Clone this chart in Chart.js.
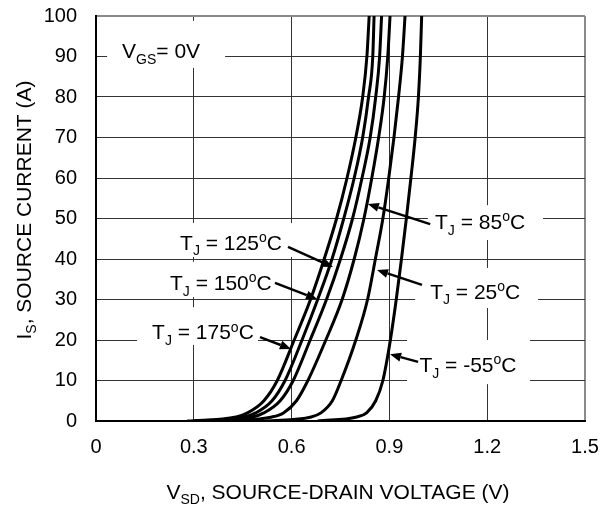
<!DOCTYPE html>
<html><head><meta charset="utf-8">
<script src="https://cdn.jsdelivr.net/npm/chart.js@4.4.0/dist/chart.umd.min.js"></script>
<style>html,body{margin:0;padding:0;background:#fff;}</style>
</head><body>
<canvas id="c" width="601" height="506"></canvas>
<script>
// ---- data ----
const currents = [0, 1, 2, 5, 10, 20, 30, 40, 50, 60, 70, 80, 90, 100];          // I_S (A)
const vTj175   = [0.28, 0.43, 0.465, 0.515, 0.556, 0.608, 0.658, 0.700, 0.738, 0.770, 0.797, 0.818, 0.831, 0.838];
const vTj150   = [0.30, 0.455, 0.49, 0.54, 0.580, 0.632, 0.680, 0.724, 0.760, 0.792, 0.818, 0.836, 0.849, 0.853];
const vTj125   = [0.33, 0.48, 0.515, 0.565, 0.605, 0.657, 0.707, 0.750, 0.787, 0.816, 0.841, 0.858, 0.870, 0.876];
const vTj85    = [0.40, 0.54, 0.575, 0.615, 0.650, 0.705, 0.755, 0.792, 0.822, 0.846, 0.867, 0.884, 0.895, 0.902];
const vTj25    = [0.52, 0.66, 0.69, 0.725, 0.752, 0.797, 0.833, 0.857, 0.880, 0.898, 0.914, 0.928, 0.940, 0.948];
const vTjm55   = [0.68, 0.80, 0.83, 0.858, 0.880, 0.903, 0.921, 0.937, 0.952, 0.966, 0.979, 0.989, 0.995, 0.999];
const temperatures = ['175', '150', '125', '85', '25', '-55'];
const xTickValues = [0, 0.3, 0.6, 0.9, 1.2, 1.5];
const xTickLabels = ['0', '0.3', '0.6', '0.9', '1.2', '1.5'];
const yTickValues = [0, 10, 20, 30, 40, 50, 60, 70, 80, 90, 100];

const FONT = '"Liberation Sans", Arial, sans-serif';
const series = [vTj175, vTj150, vTj125, vTj85, vTj25, vTjm55];

// annotation layout (in data units): text start, box, arrow from -> tip
const notes = [
  {parts:[['V'],['GS','sub'],['= 0V']], tx:0.080, ty:91.5, box:[0.034, 98.8, 0.396, 87.2]},
  {parts:[['T'],['J','sub'],[' = 85'],['o','sup'],['C']], tx:1.040, ty:49.3, box:[1.018, 53.3, 1.371, 44.7], arrow:[1.025, 48.6, 0.834, 53.6]},
  {parts:[['T'],['J','sub'],[' = 125'],['o','sup'],['C']], tx:0.258, ty:44.2, box:[0.212, 48.9, 0.610, 40.5], arrow:[0.589, 43.0, 0.727, 38.0]},
  {parts:[['T'],['J','sub'],[' = 150'],['o','sup'],['C']], tx:0.227, ty:34.2, box:[0.196, 39.3, 0.564, 30.6], arrow:[0.549, 34.1, 0.678, 30.1]},
  {parts:[['T'],['J','sub'],[' = 175'],['o','sup'],['C']], tx:0.172, ty:22.0, box:[0.126, 28.1, 0.497, 18.8], arrow:[0.503, 20.7, 0.598, 17.8]},
  {parts:[['T'],['J','sub'],[' = 25'],['o','sup'],['C']], tx:1.025, ty:32.1, box:[0.979, 37.8, 1.356, 27.9], arrow:[1.000, 33.6, 0.862, 37.3]},
  {parts:[['T'],['J','sub'],[' = -55'],['o','sup'],['C']], tx:0.992, ty:14.0, box:[0.954, 20.0, 1.331, 9.1], arrow:[0.988, 14.6, 0.902, 16.5]}
];

function richWidth(ctx, parts, size) {
  let w = 0;
  for (const p of parts) {
    const s = p[1] ? Math.round(size * 0.68) : size;
    ctx.font = s + 'px ' + FONT;
    w += ctx.measureText(p[0]).width;
  }
  return w;
}
function drawRich(ctx, x, capMid, parts, size) {
  const base = capMid + size * 0.716 / 2;
  ctx.textBaseline = 'alphabetic';
  ctx.textAlign = 'left';
  ctx.fillStyle = '#000';
  let cx = x;
  for (const p of parts) {
    const sub = p[1] === 'sub', sup = p[1] === 'sup';
    const s = (sub || sup) ? Math.round(size * 0.68) : size;
    ctx.font = s + 'px ' + FONT;
    const dy = sub ? size * 0.28 : (sup ? -size * 0.36 : 0);
    ctx.fillText(p[0], cx, base + dy);
    cx += ctx.measureText(p[0]).width;
  }
}
function arrow(ctx, x1, y1, x2, y2) {
  const ang = Math.atan2(y2 - y1, x2 - x1);
  const L = 11, W = 4.5;
  const bx = x2 - L * Math.cos(ang), by = y2 - L * Math.sin(ang);
  ctx.strokeStyle = '#000'; ctx.lineWidth = 2.5; ctx.lineCap = 'butt';
  ctx.beginPath(); ctx.moveTo(x1, y1); ctx.lineTo(bx, by); ctx.stroke();
  ctx.fillStyle = '#000';
  ctx.beginPath();
  ctx.moveTo(x2, y2);
  ctx.lineTo(bx + W * Math.sin(ang), by - W * Math.cos(ang));
  ctx.lineTo(bx - W * Math.sin(ang), by + W * Math.cos(ang));
  ctx.closePath(); ctx.fill();
}

const annotPlugin = {
  id: 'annot',
  beforeDatasetsDraw(chart) {
    const {ctx, scales:{x, y}} = chart;
    ctx.save();
    ctx.fillStyle = '#fff';
    for (const n of notes) {
      const x1 = x.getPixelForValue(n.box[0]), y1 = y.getPixelForValue(n.box[1]);
      const x2 = x.getPixelForValue(n.box[2]), y2 = y.getPixelForValue(n.box[3]);
      ctx.fillRect(x1, y1, x2 - x1, y2 - y1);
    }
    ctx.restore();
  },
  afterDatasetsDraw(chart) {
    const {ctx, scales:{x, y}} = chart;
    ctx.save();
    for (const n of notes) {
      drawRich(ctx, x.getPixelForValue(n.tx), y.getPixelForValue(n.ty), n.parts, 21);
      if (n.arrow) arrow(ctx, x.getPixelForValue(n.arrow[0]), y.getPixelForValue(n.arrow[1]),
                              x.getPixelForValue(n.arrow[2]), y.getPixelForValue(n.arrow[3]));
    }
    // axis titles
    const xt = [['V'],['SD','sub'],[', SOURCE-DRAIN VOLTAGE (V)']];
    const wx = richWidth(ctx, xt, 21);
    drawRich(ctx, 338 - wx / 2, 491, xt, 21);
    const yt = [['I'],['S','sub'],[', SOURCE CURRENT (A)']];
    const wy = richWidth(ctx, yt, 21);
    ctx.translate(23, 210);
    ctx.rotate(-Math.PI / 2);
    drawRich(ctx, -wy / 2, 0, yt, 21);
    ctx.restore();
  }
};

new Chart(document.getElementById('c'), {
  type: 'scatter',
  data: {
    datasets: temperatures.map((t, k) => ({
      label: 'TJ = ' + t + '°C',
      data: currents.map((i, j) => ({x: series[k][j], y: i})),
      showLine: true,
      borderColor: '#000',
      borderWidth: 3,
      pointRadius: 0,
      fill: false,
      cubicInterpolationMode: 'monotone'
    }))
  },
  options: {
    responsive: false,
    animation: false,
    devicePixelRatio: 1,
    layout: {padding: {top: 16, right: 16, left: 0, bottom: 0}},
    plugins: {legend: {display: false}, tooltip: {enabled: false}},
    scales: {
      x: {
        type: 'linear', min: 0, max: 1.5,
        afterBuildTicks: s => { s.ticks = xTickValues.map(v => ({value: v})); },
        afterFit: s => { s.height = 85; s.paddingLeft = 0; s.paddingRight = 0; },
        ticks: {callback: (v, i) => xTickLabels[i], font: {size: 20, family: FONT}, color: '#000', padding: 14, maxRotation: 0, autoSkip: false},
        grid: {drawTicks: false,
               color: c => (c.tick && c.tick.value === 1.5) ? '#8a8a8a' : '#333',
               lineWidth: c => (c.tick && c.tick.value === 1.5) ? 2 : 1},
        border: {color: '#000', width: 2}
      },
      y: {
        type: 'linear', min: 0, max: 100,
        afterBuildTicks: s => { s.ticks = yTickValues.map(v => ({value: v})); },
        afterFit: s => { s.width = 96; s.paddingTop = 0; s.paddingBottom = 0; },
        ticks: {font: {size: 20, family: FONT}, color: '#000', padding: 19},
        grid: {drawTicks: false,
               color: c => (c.tick && c.tick.value === 100) ? '#8a8a8a' : '#333',
               lineWidth: c => (c.tick && c.tick.value === 100) ? 2 : 1},
        border: {color: '#000', width: 2}
      }
    }
  },
  plugins: [annotPlugin]
});
</script>
</body></html>
